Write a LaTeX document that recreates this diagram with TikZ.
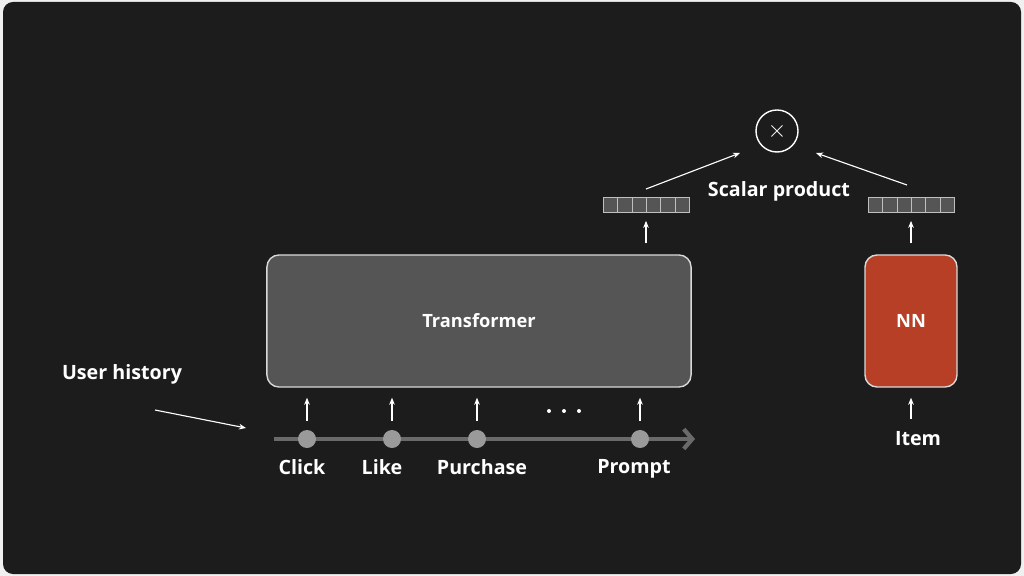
\documentclass[tikz,border=0pt]{standalone}
\usepackage{fontspec}
\setmainfont{Open Sans}
\usetikzlibrary{arrows.meta,positioning}
\definecolor{bgdark}{HTML}{1C1C1C}
\definecolor{boxgray}{HTML}{555555}
\definecolor{nnred}{HTML}{B63F26}
\definecolor{linegray}{HTML}{6A6A6A}
\definecolor{dotgray}{HTML}{9A9A9A}
\tikzset{
    lbl/.style={text=white, font=\bfseries\fontsize{14}{16}\selectfont},
    block/.style={draw=white!85!black, line width=1pt, rounded corners=0.3cm,
        minimum height=3.3cm, text=white, font=\bfseries\fontsize{13}{15}\selectfont},
    upar/.style={draw=white, line width=0.8pt, -{Stealth[length=5pt,width=4pt]}},
    cell/.style={draw=white!75!black, fill=boxgray, line width=0.6pt,
        minimum width=0.36cm, minimum height=0.375cm, inner sep=0pt},
    event/.style={circle, fill=dotgray, minimum size=0.45cm, inner sep=0pt},
    gapdot/.style={circle, fill=white, minimum size=0.1cm, inner sep=0pt}
}
\begin{document}
\begin{tikzpicture}[x=0.025cm, y=-0.025cm]
    \fill[white!94!black] (0,0) rectangle (1024,576);
    \fill[bgdark, rounded corners=0.25cm] (3,2) rectangle (1021,574);

    \node[block, fill=boxgray, minimum width=10.6cm] (trf) at (479,321) {Transformer};
    \node[block, fill=nnred, minimum width=2.3cm] (nn) at (911,321) {NN};

    % timeline
    \coordinate (tlstart) at (274,439);
    \coordinate (tlend) at (695,439);
    \draw[linegray, line width=3pt, -{Straight Barb[length=6pt,width=14pt]}] (tlstart) -- (tlend);
    \foreach \name/\x/\dx/\txt in {click/307/-5/Click, like/392/-10/Like, buy/477/5/Purchase, prompt/640/-6/Prompt} {
        \node[event] (\name) at (\x,439) {};
        \node[lbl, below=0.15cm of \name, xshift=\dx*0.025cm] (\name lbl) {\txt};
        \draw[upar, shorten <=0.22cm, shorten >=0.25cm] (\name) -- (\name |- trf.south);
    }
    \foreach \i/\x in {1/549, 2/564, 3/579} {
        \node[gapdot] (gap\i) at (\x,411) {};
    }

    % output vectors
    \foreach \side/\x in {L/603, R/868} {
        \foreach \i in {0,...,5} {
            \node[cell, anchor=north west] (v\side\i) at (\x+\i*14.33,197) {};
        }
    }
    \coordinate (vecL) at (646,204.5);
    \coordinate (vecR) at (911,204.5);
    \draw[upar, shorten <=0.275cm, shorten >=0.2cm] (trf.north -| vecL) -- (vecL |- vL0.south);
    \draw[upar, shorten <=0.275cm, shorten >=0.2cm] (nn.north) -- (vecR |- vR0.south);

    \node[lbl] (item) at (918,439) {Item};
    \draw[upar, shorten <=0.2cm, shorten >=0.25cm] (item.north -| nn.south) -- (nn.south);

    % scalar product
    \node[circle, draw=white, line width=1pt, minimum size=1.05cm, inner sep=0pt,
        text=white, font=\fontsize{16}{16}\selectfont] (prod) at (777,131) {$\times$};
    \coordinate (pinL) at (740,153);
    \coordinate (pinR) at (816,153);
    \coordinate (poutL) at (646,189);
    \coordinate (poutR) at (907,185);
    \draw[upar] (poutL) -- (pinL);
    \draw[upar] (poutR) -- (pinR);
    \node[lbl] (sp) at (779,191) {Scalar product};

    \node[lbl] (hist) at (122,374) {User history};
    \coordinate (hstart) at (155,410);
    \coordinate (hend) at (246,428);
    \draw[upar] (hstart) -- (hend);
\end{tikzpicture}
\end{document}
